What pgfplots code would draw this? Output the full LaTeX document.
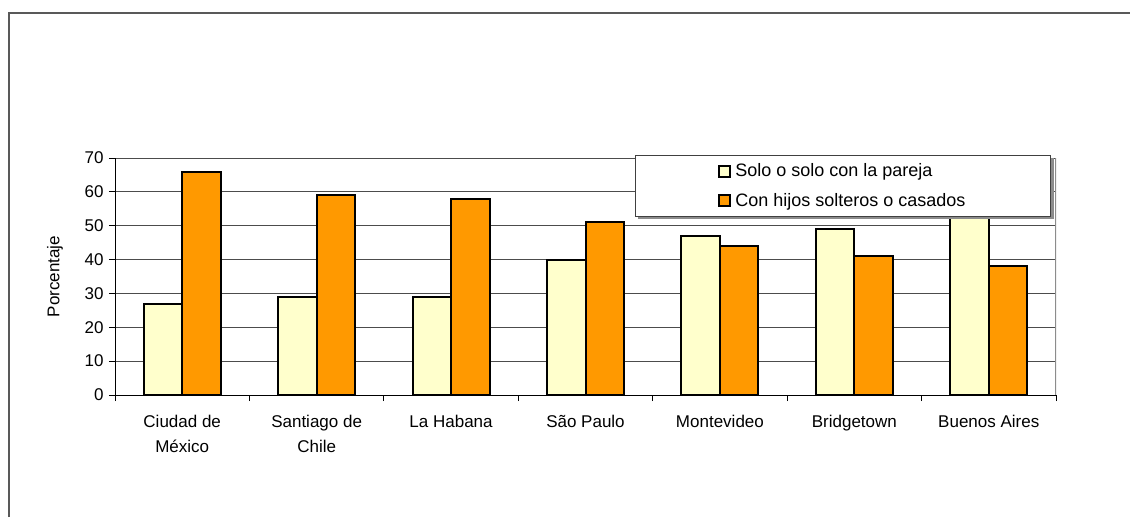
\documentclass[border=0pt]{standalone}
\usepackage{pgfplots}
\pgfplotsset{compat=1.18}
\usepackage{fontspec}
\setmainfont{Liberation Sans}
\definecolor{solo}{HTML}{FFFFCC}
\definecolor{hijos}{HTML}{FF9900}
\begin{document}
\begin{tikzpicture}
\path[use as bounding box] (0,0) rectangle (1130pt,517pt);
\draw[black!65, line width=1.5pt] (9pt,0pt) -- (9pt,504pt) -- (1130pt,504pt);
\begin{axis}[
  at={(115pt,122pt)}, anchor=south west,
  scale only axis, width=941pt, height=237pt,
  xmin=-0.5, xmax=6.5, ymin=0, ymax=70,
  ytick={0,10,...,70},
  xtick={-0.5,0.5,...,6.5}, xticklabels={},
  extra x ticks={0,1,2,3,4,5,6},
  extra x tick labels={{Ciudad de\\México},{Santiago de\\Chile},{La Habana},{São Paulo},{Montevideo},{Bridgetown},{Buenos Aires}},
  extra x tick style={major tick length=0pt, grid=none, tick label style={yshift=-17pt}},
  axis x line*=bottom, axis y line*=left,
  axis line style={black, line width=1pt},
  tick align=outside, major tick length=6pt,
  tick style={black, line width=1pt},
  ymajorgrids, grid style={black!70, line width=0.9pt},
  tick label style={font=\fontsize{17}{25}\selectfont},
  xticklabel style={align=center},
  yticklabel style={xshift=-2pt},
  /pgf/number format/assume math mode=true,
  ylabel={Porcentaje},
  ylabel style={font=\fontsize{17}{20}\selectfont, at={(axis description cs:-0.0638,0.5)}, anchor=center},
  ybar=0pt, bar width=38.5pt,
  legend style={at={(rel axis cs:0.5526,1.0127)}, anchor=north west,
    draw=black!75, line width=0.8pt, fill=white,
    font=\fontsize{18}{22}\selectfont,
    inner xsep=83pt, inner ysep=6.5pt, row sep=11pt},
  legend cell align=left,
  legend image code/.code={\draw[#1, line width=1.8pt] (0pt,-5.5pt) rectangle (11pt,5.5pt); \path (13pt,0pt);},
]
\addplot[draw=black, line width=2pt, fill=solo] coordinates {(0,27) (1,29) (2,29) (3,40) (4,47) (5,49) (6,54)};
\addplot[draw=black, line width=2pt, fill=hijos] coordinates {(0,66) (1,59) (2,58) (3,51) (4,44) (5,41) (6,38)};
\legend{Solo o solo con la pareja, Con hijos solteros o casados}
\draw[black!45, line width=1.5pt] (axis cs:6.5,0) -- (axis cs:6.5,70);
\fill[black!45] (rel axis cs:0.5558,1.0) rectangle (rel axis cs:0.9979,0.7426);
\end{axis}
\end{tikzpicture}
\end{document}
